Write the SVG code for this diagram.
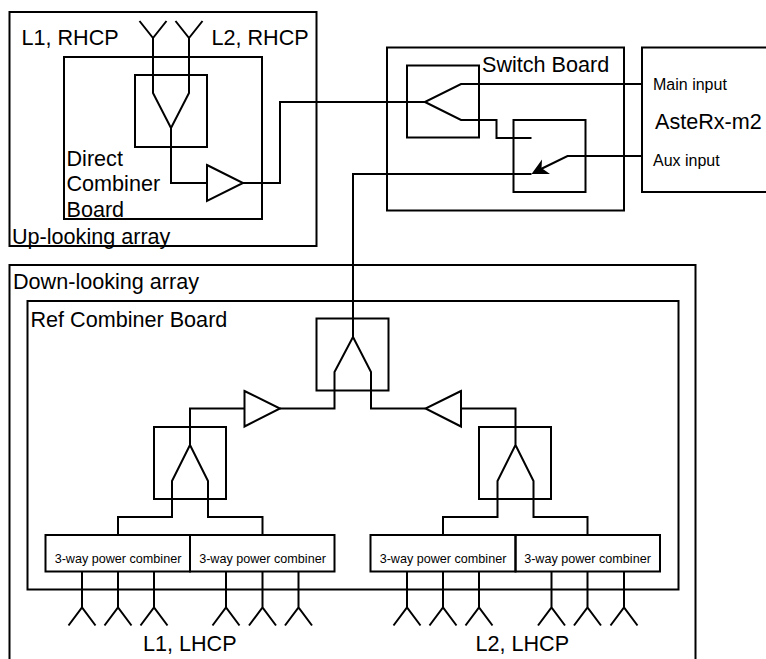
<svg xmlns="http://www.w3.org/2000/svg" width="766" height="659" viewBox="0 0 766 659">
<style>
rect,path,polygon{fill:none;stroke:#000;stroke-width:2}
text{font-family:"Liberation Sans",Arial,sans-serif;font-size:21.600px;fill:#000}
.s{font-size:12.600px;text-anchor:middle}
.m{font-size:16px}
</style>
<defs>
<path id="up" d="M-13.500 -17L0 0L13.500 -17M0 0V18"/>
<path id="dn" d="M0 -36V0M-13.500 18L0 0L13.500 18"/>
</defs>
<rect width="766" height="659" style="fill:#fff;stroke:none"/>
<g id="up-array"><rect x="9.500" y="12" width="307" height="234"/><text x="12" y="243.500">Up-looking array</text></g>
<g id="direct-board"><rect x="64" y="57" width="198" height="162"/><text x="66.500" y="165.500">Direct</text><text x="66.500" y="190.500">Combiner</text><text x="66.500" y="216.500">Board</text></g>
<g id="direct-switch"><rect x="135" y="75" width="72" height="72"/></g>
<g id="antenna-l1-rhcp"><use href="#up" x="153" y="38"/><text x="21.500" y="45">L1, RHCP</text></g>
<g id="antenna-l2-rhcp"><use href="#up" x="189" y="38"/><text x="211.500" y="45">L2, RHCP</text></g>
<g id="direct-amp"><polygon points="207,165 243,183 207,201"/></g>
<g id="switch-board"><rect x="387" y="47.500" width="237" height="163"/><text x="482" y="71.500">Switch Board</text></g>
<g id="switch-a"><rect x="407" y="65.500" width="72" height="72"/></g>
<g id="switch-b"><rect x="513.500" y="120" width="72" height="72"/></g>
<g id="asterx"><path d="M766 47.500H642V192H766"/><text x="655" y="128.500">AsteRx-m2</text><text class="m" x="653" y="90">Main input</text><text class="m" x="653" y="165.500">Aux input</text></g>
<g id="down-array"><path d="M9.500 659V265H695.500V659"/><text x="13" y="288.500">Down-looking array</text></g>
<g id="ref-board"><rect x="27.500" y="301" width="651" height="288.500"/><text x="30.500" y="326.500">Ref Combiner Board</text></g>
<g id="ref-switch-top"><rect x="316.500" y="318.500" width="72" height="72"/></g>
<g id="ref-switch-l"><rect x="154" y="427" width="72" height="72"/></g>
<g id="ref-switch-r"><rect x="479" y="427" width="72" height="72"/></g>
<g id="amp-l"><polygon points="244.500,391 280,408.500 244.500,426.500"/></g>
<g id="amp-r"><polygon points="461,391 425.500,408.500 461,426.500"/></g>
<g id="comb-1"><rect x="45.500" y="535" width="144.500" height="36.500"/><text class="s" x="118" y="563">3-way power combiner</text></g>
<g id="comb-2"><rect x="190" y="535" width="144.500" height="36.500"/><text class="s" x="262.500" y="563">3-way power combiner</text></g>
<g id="comb-3"><rect x="370.500" y="535" width="145" height="36.500"/><text class="s" x="443" y="563">3-way power combiner</text></g>
<g id="comb-4"><rect x="515.500" y="535" width="144.500" height="36.500"/><text class="s" x="587.500" y="563">3-way power combiner</text></g>
<g id="l1-lhcp"><use href="#dn" x="82" y="607.500"/><use href="#dn" x="118" y="607.500"/><use href="#dn" x="154" y="607.500"/><use href="#dn" x="226" y="607.500"/><use href="#dn" x="262.500" y="607.500"/><use href="#dn" x="298.500" y="607.500"/><text x="143" y="651">L1, LHCP</text></g>
<g id="l2-lhcp"><use href="#dn" x="407" y="607.500"/><use href="#dn" x="443" y="607.500"/><use href="#dn" x="479" y="607.500"/><use href="#dn" x="551.500" y="607.500"/><use href="#dn" x="587.500" y="607.500"/><use href="#dn" x="624" y="607.500"/><text x="475.500" y="651">L2, LHCP</text></g>
<g id="connectors">
<path d="M153 56V93L171 128V183H207M189 56V93L171 128"/>
<path d="M243 183H280V102H425L461 84H642M425 102L461 120H496.500V138H531.500"/>
<path d="M642 156H567.500L541 169M531.500 174H353V337L334.500 372V408.500H280M353 337L371 372V408.500H425.500"/>
<polygon points="531.500,174 542,159.500 541.500,168 550,174" style="fill:#000;stroke:none"/>
<path d="M244.500 408.500H190V445L172 481V517H118V535M190 445L208 481V517H262.500V535"/>
<path d="M461 408.500H515.500V445L497.500 481V517H443V535M515.500 445L533.500 481V517H587.500V535"/>
</g>
</svg>
